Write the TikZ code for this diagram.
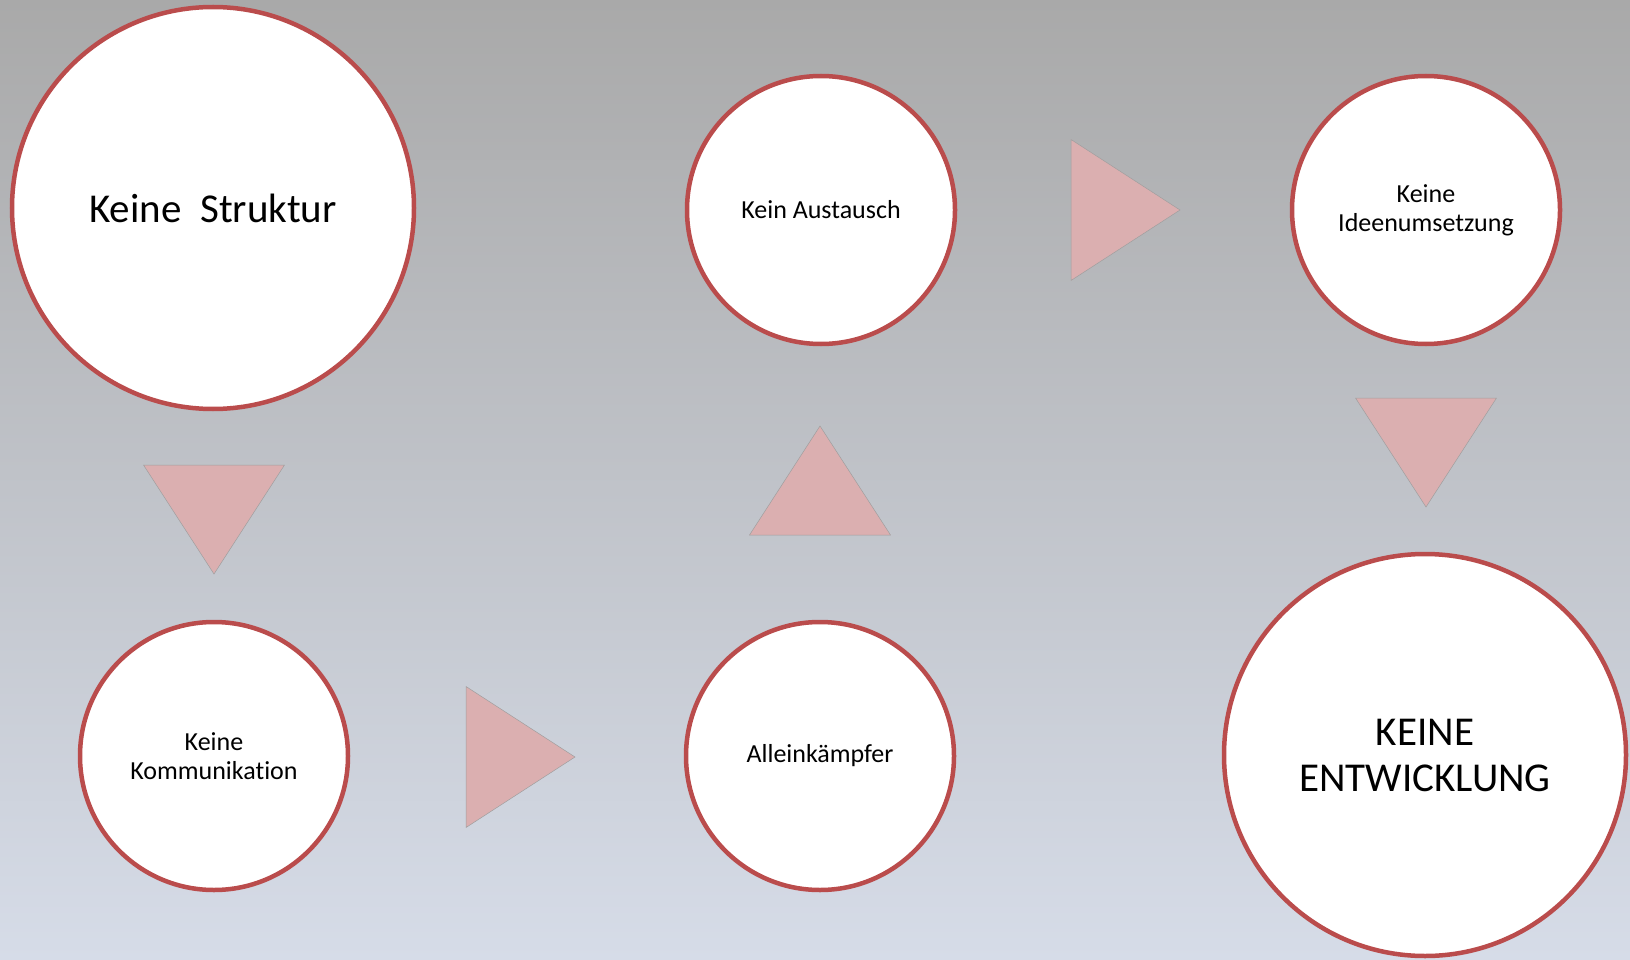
\documentclass[tikz,border=0pt]{standalone}
\usepackage{fontspec}
\setmainfont[Ligatures=NoCommon]{Carlito}
\definecolor{bubblered}{RGB}{186,76,76}
\definecolor{tripink}{RGB}{219,175,176}
\definecolor{bgtop}{RGB}{169,169,169}
\definecolor{bgbottom}{RGB}{214,220,232}
\begin{document}
\begin{tikzpicture}[x=1pt,y=-1pt,
		bubble/.style={circle,draw=bubblered,line width=4.5pt,fill=white,align=center,inner sep=0pt,minimum size=268pt,font=\fontsize{26}{29}\selectfont},
		bigbubble/.style={bubble,minimum size=402pt,font=\fontsize{41}{46}\selectfont},
		tri/.style={fill=tripink,draw=gray!75,line width=0.5pt}]
		\useasboundingbox (0,0) rectangle (1630,960);
		\shade[top color=bgtop,bottom color=bgbottom] (0,0) rectangle (1630,960);
		% circles
		\node[bigbubble] (struktur) at (213,208) {Keine\ \ Struktur};
		\node[bubble] (austausch) at (821,210) {Kein Austausch};
		\node[bubble] (ideen) at (1426,210) {Keine\\Ideenumsetzung};
		\node[bubble] (kommunikation) at (214,756) {Keine\\Kommunikation};
		\node[bubble] (allein) at (820,756) {Alleinkämpfer};
		\node[bigbubble] (entwicklung) at (1425,755) {KEINE\\ENTWICKLUNG};
		% triangles, apex and turn
		\foreach \x/\y/\r in {214/574/-90,575/757/0,820/426/90,1180/210/0,1426/507/-90}{
			\draw[tri,rotate around={\r:(\x,\y)}] (\x,\y) -- ++(-109,-70.5) -- ++(0,141) -- cycle;
		}
	\end{tikzpicture}
\end{document}
